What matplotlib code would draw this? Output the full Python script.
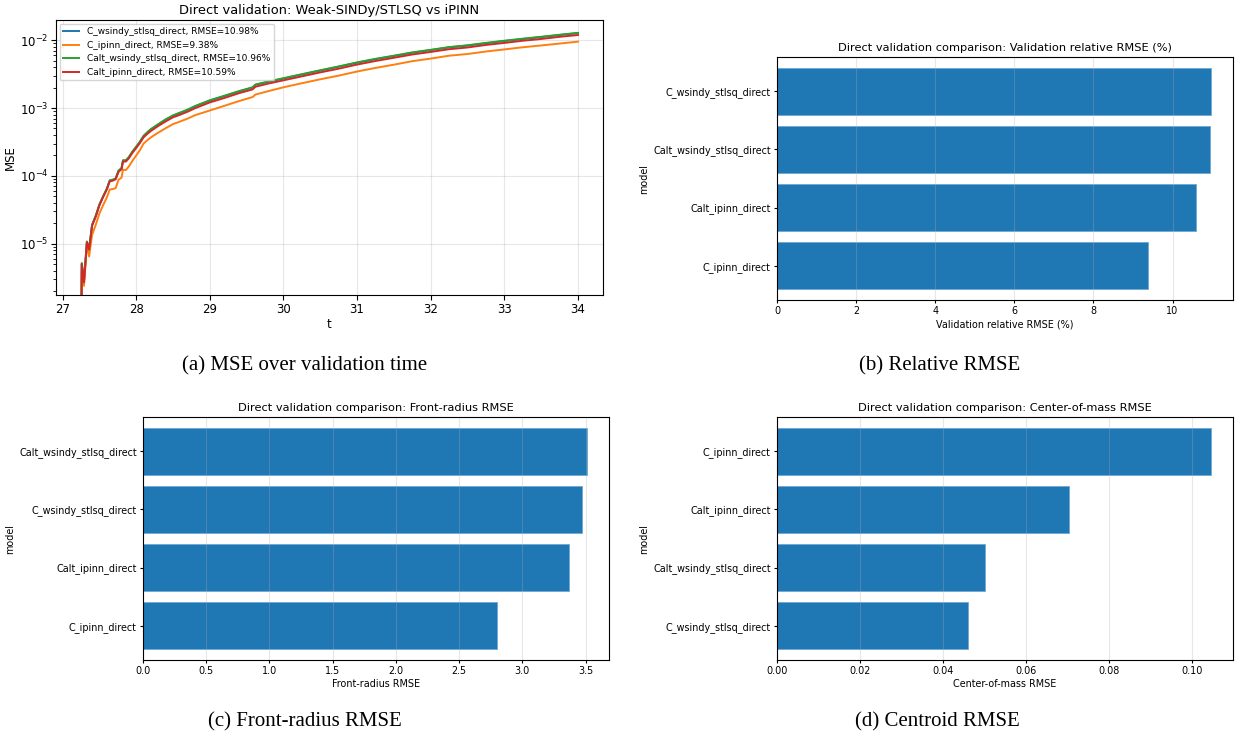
import matplotlib
matplotlib.use("Agg")
import matplotlib.pyplot as plt

# --- data ---
t = [27.25, 27.26, 27.29, 27.33, 27.36, 27.40, 27.45, 27.50, 27.55, 27.60,
     27.64, 27.68, 27.72, 27.76, 27.80, 27.82, 27.86, 27.90, 27.95, 28.00,
     28.05, 28.10, 28.15, 28.20, 28.30, 28.40, 28.50, 28.60, 28.70, 28.80,
     29.00, 29.20, 29.40, 29.58, 29.62, 29.80, 30.00, 30.25, 30.50, 30.75,
     31.00, 31.25, 31.50, 31.75, 32.00, 32.25, 32.50, 32.75, 33.00, 33.25,
     33.50, 33.75, 34.00]

mse_c_wsindy = [1e-7, 5.1e-6, 2.75e-6, 1.07e-5, 8.4e-6, 1.88e-5, 2.57e-5, 3.76e-5, 4.95e-5, 6.4e-5,
                8.5e-5, 8.7e-5, 9.1e-5, 1.19e-4, 1.29e-4, 1.68e-4, 1.68e-4, 1.88e-4, 2.28e-4, 2.67e-4,
                3.17e-4, 3.86e-4, 4.35e-4, 4.85e-4, 5.74e-4, 6.73e-4, 7.72e-4, 8.5e-4, 9.4e-4, 1.06e-3,
                1.29e-3, 1.5e-3, 1.76e-3, 2.0e-3, 2.2e-3, 2.44e-3, 2.72e-3, 3.12e-3, 3.56e-3, 4.06e-3,
                4.65e-3, 5.25e-3, 5.84e-3, 6.53e-3, 7.13e-3, 7.82e-3, 8.32e-3, 9.0e-3, 9.7e-3, 1.04e-2,
                1.11e-2, 1.19e-2, 1.27e-2]
mse_c_ipinn = [1e-7, 4.0e-6, 2.4e-6, 9.8e-6, 6.5e-6, 1.35e-5, 1.9e-5, 2.8e-5, 3.7e-5, 4.8e-5,
               6.3e-5, 6.4e-5, 6.6e-5, 8.8e-5, 9.4e-5, 1.23e-4, 1.22e-4, 1.38e-4, 1.68e-4, 2.0e-4,
               2.4e-4, 3.0e-4, 3.35e-4, 3.7e-4, 4.35e-4, 5.05e-4, 5.8e-4, 6.35e-4, 7.0e-4, 7.85e-4,
               9.2e-4, 1.08e-3, 1.27e-3, 1.45e-3, 1.58e-3, 1.78e-3, 2.02e-3, 2.32e-3, 2.65e-3, 3.0e-3,
               3.45e-3, 3.9e-3, 4.35e-3, 4.9e-3, 5.35e-3, 5.9e-3, 6.25e-3, 6.8e-3, 7.3e-3, 7.85e-3,
               8.35e-3, 8.9e-3, 9.5e-3]
mse_calt_wsindy = [1e-7, 5.2e-6, 2.8e-6, 1.08e-5, 8.5e-6, 1.9e-5, 2.6e-5, 3.8e-5, 5.0e-5, 6.5e-5,
                   8.6e-5, 8.8e-5, 9.2e-5, 1.2e-4, 1.3e-4, 1.7e-4, 1.7e-4, 1.9e-4, 2.3e-4, 2.7e-4,
                   3.2e-4, 3.9e-4, 4.4e-4, 4.9e-4, 5.8e-4, 6.8e-4, 7.8e-4, 8.6e-4, 9.5e-4, 1.07e-3,
                   1.3e-3, 1.52e-3, 1.78e-3, 2.02e-3, 2.22e-3, 2.47e-3, 2.75e-3, 3.15e-3, 3.6e-3, 4.1e-3,
                   4.7e-3, 5.3e-3, 5.9e-3, 6.6e-3, 7.2e-3, 7.9e-3, 8.4e-3, 9.1e-3, 9.8e-3, 1.05e-2,
                   1.12e-2, 1.2e-2, 1.28e-2]
mse_calt_ipinn = [1e-7, 5.0e-6, 2.7e-6, 1.05e-5, 8.2e-6, 1.85e-5, 2.5e-5, 3.7e-5, 4.9e-5, 6.3e-5,
                  8.3e-5, 8.5e-5, 8.9e-5, 1.15e-4, 1.25e-4, 1.62e-4, 1.63e-4, 1.82e-4, 2.2e-4, 2.58e-4,
                  3.05e-4, 3.7e-4, 4.15e-4, 4.6e-4, 5.45e-4, 6.35e-4, 7.3e-4, 8.0e-4, 8.85e-4, 9.95e-4,
                  1.21e-3, 1.41e-3, 1.66e-3, 1.88e-3, 2.06e-3, 2.3e-3, 2.56e-3, 2.93e-3, 3.35e-3, 3.8e-3,
                  4.37e-3, 4.93e-3, 5.5e-3, 6.15e-3, 6.7e-3, 7.35e-3, 7.8e-3, 8.5e-3, 9.1e-3, 9.8e-3,
                  1.04e-2, 1.12e-2, 1.19e-2]

series_names = ["C_wsindy_stlsq_direct", "C_ipinn_direct",
                "Calt_wsindy_stlsq_direct", "Calt_ipinn_direct"]
series_rmse = [10.98, 9.38, 10.96, 10.59]

# bar panels, listed bottom -> top
rel_models = ["C_ipinn_direct", "Calt_ipinn_direct", "Calt_wsindy_stlsq_direct", "C_wsindy_stlsq_direct"]
rel_values = [9.38, 10.59, 10.96, 10.98]

front_models = ["C_ipinn_direct", "Calt_ipinn_direct", "C_wsindy_stlsq_direct", "Calt_wsindy_stlsq_direct"]
front_values = [2.80, 3.37, 3.47, 3.51]

com_models = ["C_wsindy_stlsq_direct", "Calt_wsindy_stlsq_direct", "Calt_ipinn_direct", "C_ipinn_direct"]
com_values = [0.0461, 0.0502, 0.0705, 0.1047]

captions = ["(a) MSE over validation time", "(b) Relative RMSE",
            "(c) Front-radius RMSE", "(d) Centroid RMSE"]

W, H = 1250, 743
fig = plt.figure(figsize=(12.5, 7.43), dpi=100)


def box(l, t_, r, b):
    return [l / W, 1 - b / H, (r - l) / W, (b - t_) / H]


# (a) MSE over time
ax = fig.add_axes(box(56, 20, 603, 295))
for name, y, r in zip(series_names,
                      [mse_c_wsindy, mse_c_ipinn, mse_calt_wsindy, mse_calt_ipinn],
                      series_rmse):
    ax.plot(t, y, lw=1.4, label=f"{name}, RMSE={r:.2f}%")
ax.set_yscale("log")
ax.set_ylim(1.76e-6, 0.0198)
ax.set_xlim(26.91, 34.34)
ax.set_title("Direct validation: Weak-SINDy/STLSQ vs iPINN", fontsize=9.4, pad=4)
ax.set_xlabel("t", fontsize=8.5, labelpad=2)
ax.set_ylabel("MSE", fontsize=8.5, labelpad=2)
ax.tick_params(labelsize=8.5, pad=2)
ax.grid(True, alpha=0.3)
ax.legend(loc="upper left", fontsize=6.5, handlelength=1.8, borderaxespad=0.4,
          labelspacing=0.5)


def bar_panel(rect, models, values, metric):
    ax = fig.add_axes(rect)
    ax.barh(models, values, color="#1f77b4", edgecolor="#6fa8d6", linewidth=0.6)
    ax.set_title(f"Direct validation comparison: {metric}", fontsize=8.2, pad=4)
    ax.set_xlabel(metric, fontsize=6.9, labelpad=2)
    ax.set_ylabel("model", fontsize=6.9, labelpad=3)
    ax.tick_params(labelsize=6.9, pad=2, length=2.5)
    ax.grid(True, axis="x", alpha=0.3)
    return ax


bar_panel(box(777, 57, 1233, 300), rel_models, rel_values, "Validation relative RMSE (%)")
bar_panel(box(143, 417, 609, 660), front_models, front_values, "Front-radius RMSE")
bar_panel(box(777, 417, 1233, 660), com_models, com_values, "Center-of-mass RMSE")

# sub-figure captions
cap_pos = [(305, 366), (940, 366), (305, 722), (937, 722)]
for (cx, cy), text in zip(cap_pos, captions):
    fig.text(cx / W, 1 - cy / H, text, ha="center", va="center",
             family="Liberation Serif", fontsize=15)

fig.savefig("out.png", dpi=100)
